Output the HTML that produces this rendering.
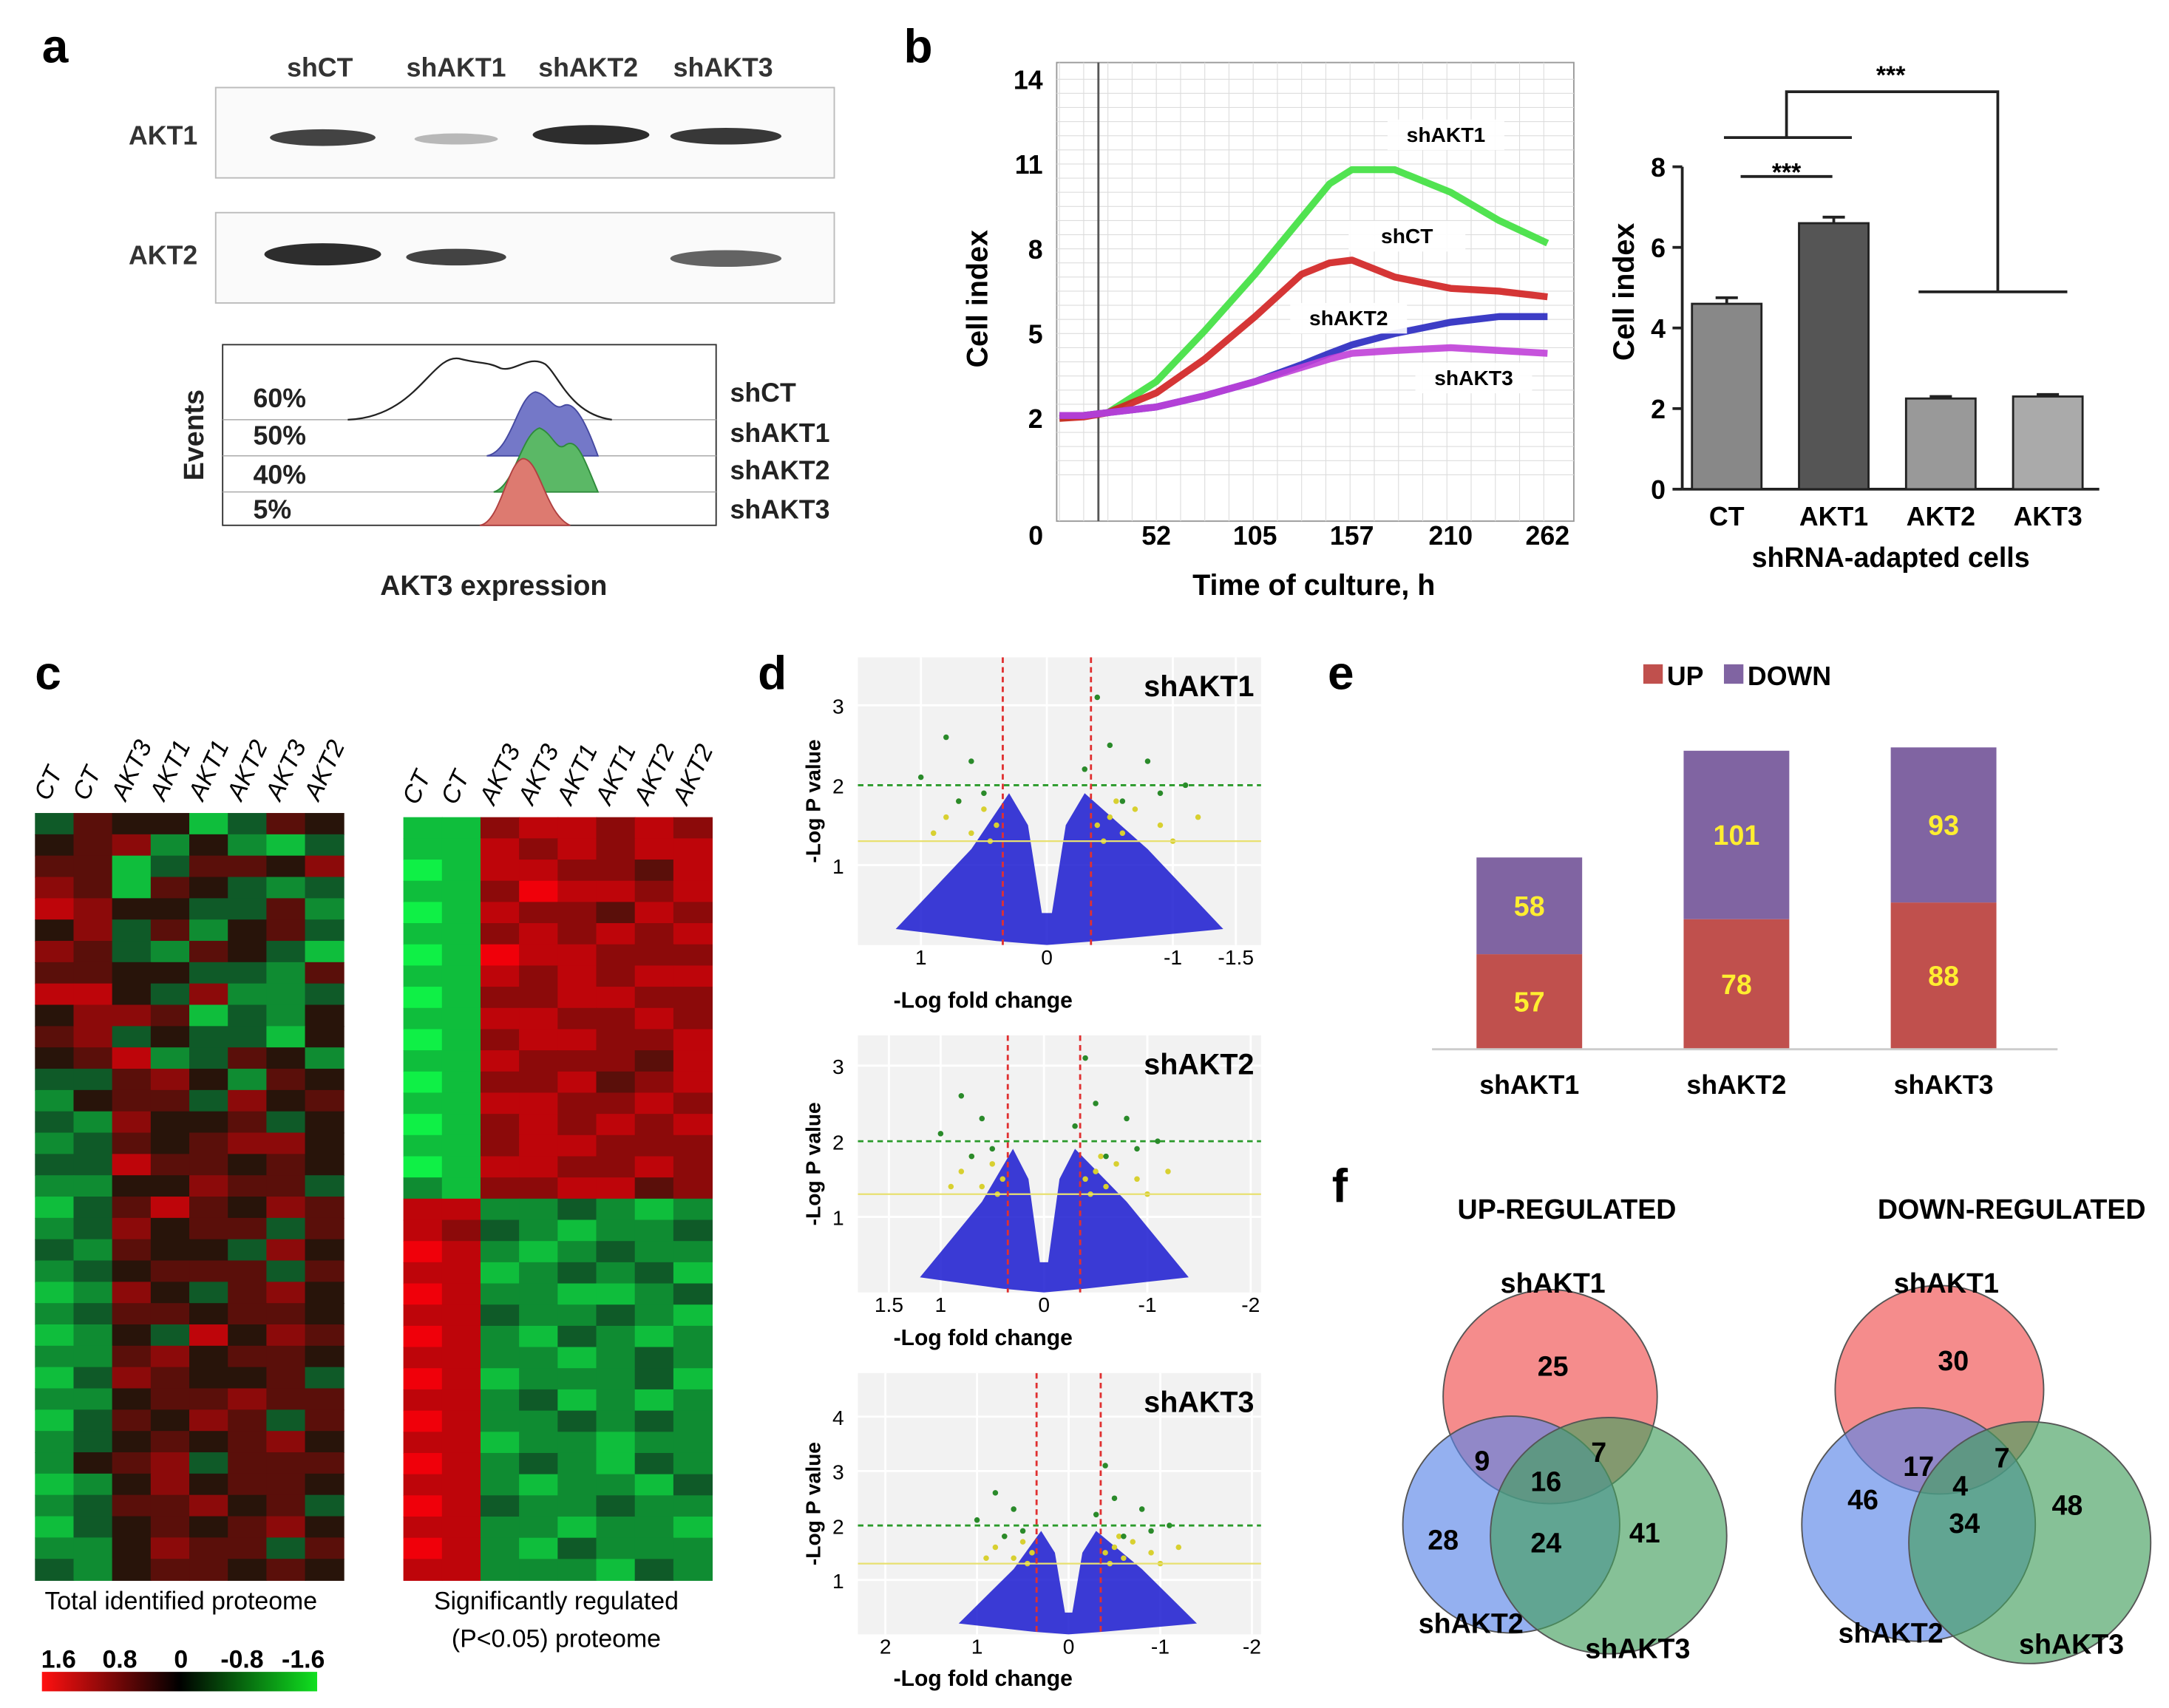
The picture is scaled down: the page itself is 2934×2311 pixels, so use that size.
<!DOCTYPE html>
<html><head><meta charset="utf-8">
<style>
html,body{margin:0;padding:0;background:#fff;}
svg{display:block;font-family:"Liberation Sans",Arial,sans-serif;}
</style></head>
<body>
<svg id="fig" xmlns="http://www.w3.org/2000/svg" width="2934" height="2311" viewBox="0 0 1560 1229">
<rect width="1560" height="1229" fill="#fff"/>
<g>
<text x="30" y="45" font-size="34" font-weight="bold">a</text>
<g font-size="19" font-weight="bold" fill="#333">
<text x="230" y="55" text-anchor="middle">shCT</text>
<text x="328" y="55" text-anchor="middle">shAKT1</text>
<text x="423" y="55" text-anchor="middle">shAKT2</text>
<text x="520" y="55" text-anchor="middle">shAKT3</text>
<text x="142" y="104" text-anchor="end">AKT1</text>
<text x="142" y="190" text-anchor="end">AKT2</text>
</g>
<rect x="155" y="63" width="445" height="65" fill="#fafafa" stroke="#bbb"/>
<rect x="155" y="153" width="445" height="65" fill="#fafafa" stroke="#bbb"/>
<g fill="#222">
<ellipse cx="232" cy="99" rx="38" ry="6" opacity="0.85"/>
<ellipse cx="328" cy="100" rx="30" ry="4" opacity="0.3"/>
<ellipse cx="425" cy="97" rx="42" ry="7" opacity="0.95"/>
<ellipse cx="522" cy="98" rx="40" ry="6" opacity="0.9"/>
<ellipse cx="232" cy="183" rx="42" ry="8" opacity="0.95"/>
<ellipse cx="328" cy="185" rx="36" ry="6" opacity="0.85"/>
<ellipse cx="522" cy="186" rx="40" ry="6" opacity="0.7"/>
</g>
<rect x="160" y="248" width="355" height="130" fill="#fff" stroke="#333"/>
<g stroke="#aaa" stroke-width="0.8"><line x1="160" y1="302" x2="515" y2="302"/><line x1="160" y1="328" x2="515" y2="328"/><line x1="160" y1="354" x2="515" y2="354"/></g>
<path d="M250,302 C300,300 310,255 330,258 C345,262 350,260 360,265 C370,268 380,255 392,262 C402,270 410,298 440,302" fill="none" stroke="#222" stroke-width="1.2"/>
<path d="M350,328 C368,325 372,285 385,282 C395,284 398,296 405,292 C412,288 420,300 430,328 Z" fill="#7478c8" stroke="#4448a0"/>
<path d="M355,354 C370,350 375,312 388,308 C398,312 400,326 407,320 C415,315 420,330 430,354 Z" fill="#5bb866" stroke="#2e8a3a"/>
<path d="M345,378 C360,376 365,332 376,330 C388,330 392,370 410,378 Z" fill="#dd7a70" stroke="#b04040"/>
<g font-size="19" font-weight="bold" fill="#222">
<text x="182" y="293">60%</text>
<text x="182" y="320">50%</text>
<text x="182" y="348">40%</text>
<text x="182" y="373">5%</text>
<text x="525" y="289">shCT</text>
<text x="525" y="318">shAKT1</text>
<text x="525" y="345">shAKT2</text>
<text x="525" y="373">shAKT3</text>
<text x="355" y="428" text-anchor="middle" font-size="20">AKT3 expression</text>
<text transform="translate(146,313) rotate(-90)" text-anchor="middle" font-size="20">Events</text>
</g>
</g>
<g id="pb">
<text x="650" y="45" font-size="34" font-weight="bold">b</text>
</g>
<g id="pc">
<text x="25" y="496" font-size="34" font-weight="bold">c</text>
</g>
<g id="pd">
<text x="545" y="496" font-size="34" font-weight="bold">d</text>
</g>
<g id="pe">
<text x="955" y="496" font-size="34" font-weight="bold">e</text>
</g>
<g id="pf">
<text x="958" y="865" font-size="34" font-weight="bold">f</text>
</g>
</svg>
<script>
const NS="http://www.w3.org/2000/svg";
function mk(parent,tag,attrs,txt){const e=document.createElementNS(NS,tag);for(const k in attrs)e.setAttribute(k,attrs[k]);if(txt!==undefined)e.textContent=txt;document.getElementById(parent).appendChild(e);return e;}

const times=[0,13,26,52,78,105,130,145,157,180,210,236,262];
const sAKT1=[2,2.1,2.2,3.3,5.1,7.1,9.1,10.3,10.8,10.8,10.0,9.0,8.2];
const sCT=[2,2.05,2.2,2.9,4.1,5.6,7.1,7.5,7.6,7.0,6.6,6.5,6.3];
const sAKT2=[2.1,2.1,2.2,2.4,2.8,3.3,3.9,4.3,4.6,5.0,5.4,5.6,5.6];
const sAKT3=[2.1,2.1,2.2,2.4,2.8,3.3,3.8,4.1,4.3,4.4,4.5,4.4,4.3];
const yTicks=[2,5,8,11,14];
const xTicks=[0,52,105,157,210,262];
const lx=t=>762+t*1.34, ly=v=>301-(v-2)*20.33;
let e;
e=mk("pb","rect",{x:760,y:45,width:372,height:330,fill:"#fff",stroke:"#999"});


for(let v=0;v<=14;v+=0.5){e=mk("pb","line",{x1:760,x2:1132,y1:ly(v),y2:ly(v),stroke:"#ddd","stroke-width":0.6});

}
for(let t=0;t<=270;t+=13){e=mk("pb","line",{x1:lx(t),x2:lx(t),y1:45,y2:375,stroke:"#ddd","stroke-width":0.6});

}
e=mk("pb","line",{x1:790,x2:790,y1:45,y2:375,stroke:"#555","stroke-width":1.5});


yTicks.forEach(v=>{e=mk("pb","text",{x:750,y:ly(v)+7,"text-anchor":"end","font-size":19,"font-weight":"bold"},String(v));

});
xTicks.forEach(t=>{e=mk("pb","text",{x:t===0?745:lx(t),y:392,"text-anchor":"middle","font-size":19,"font-weight":"bold"},String(t));

});
e=mk("pb","text",{x:945,y:428,"text-anchor":"middle","font-size":21,"font-weight":"bold"},"Time of culture, h");


e=mk("pb","text",{transform:"translate(710,215) rotate(-90)","text-anchor":"middle","font-size":21,"font-weight":"bold"},"Cell index");


const series=[[sAKT1,"#3ee03e","line-shakt1"],[sCT,"#d02020","line-shct"],[sAKT2,"#2828c0","line-shakt2"],[sAKT3,"#c040d8","line-shakt3"]];
series.forEach(([vals,col,nm])=>{const d=vals.map((v,i)=>(i?"L":"M")+lx(times[i])+","+ly(v)).join(" ");
e=mk("pb","path",{d:d,fill:"none",stroke:col,"stroke-width":5,"stroke-linejoin":"round",opacity:0.9});

});
[["shAKT1",1040,102],["shCT",1012,175],["shAKT2",970,234],["shAKT3",1060,277]].forEach(([t,x,y])=>{
mk("pb","rect",{x:x-42,y:y-16,width:84,height:22,fill:"#fff",opacity:0.9});
e=mk("pb","text",{x:x,y:y,"text-anchor":"middle","font-size":15,"font-weight":"bold"},t);

});

const barCats=["CT","AKT1","AKT2","AKT3"];
const barVals=[4.6,6.6,2.25,2.3];
const barErr=[0.15,0.15,0.05,0.05];
const barTicks=[0,2,4,6,8];
const by=v=>352-v*29, bx=i=>1242+i*77;
e=mk("pb","line",{x1:1210,x2:1210,y1:by(8),y2:by(0),stroke:"#222","stroke-width":2});


e=mk("pb","line",{x1:1210,x2:1510,y1:by(0),y2:by(0),stroke:"#222","stroke-width":2});


barTicks.forEach(v=>{mk("pb","line",{x1:1203,x2:1210,y1:by(v),y2:by(v),stroke:"#222","stroke-width":2});
e=mk("pb","text",{x:1198,y:by(v)+7,"text-anchor":"end","font-size":19,"font-weight":"bold"},String(v));

});
const fills=["#888","#555","#999","#aaa"];
barVals.forEach((v,i)=>{
e=mk("pb","rect",{x:bx(i)-25,y:by(v),width:50,height:by(0)-by(v),fill:fills[i],stroke:"#222","stroke-width":1.5});


mk("pb","line",{x1:bx(i)-8,x2:bx(i)+8,y1:by(v+barErr[i]),y2:by(v+barErr[i]),stroke:"#222","stroke-width":2});
mk("pb","line",{x1:bx(i),x2:bx(i),y1:by(v),y2:by(v+barErr[i]),stroke:"#222","stroke-width":2});
e=mk("pb","text",{x:bx(i),y:378,"text-anchor":"middle","font-size":19,"font-weight":"bold"},barCats[i]);

});
e=mk("pb","text",{x:1360,y:408,"text-anchor":"middle","font-size":20,"font-weight":"bold"},"shRNA-adapted cells");


e=mk("pb","text",{transform:"translate(1175,210) rotate(-90)","text-anchor":"middle","font-size":21,"font-weight":"bold"},"Cell index");


e=mk("pb","path",{d:"M1240,99 L1332,99 M1285,99 L1285,66 L1437,66 L1437,210 M1380,210 L1487,210 M1252,127 L1318,127",fill:"none",stroke:"#222","stroke-width":2});


[[1360,60],[1285,130]].forEach(([x,y])=>{e=mk("pb","text",{x:x,y:y,"text-anchor":"middle","font-size":18,"font-weight":"bold"},"***");

});

const hmLeftRows=["dfeebdfe","efgcecbd","ffbdffeg","gfbfedcd","hgeeddfc","egdfcefd","gfdcfedb","ffeeddcf","hhedgccd","eggfbdce","fgdeddbe","efhcdfec","ddfgecfe","ceffdgef","dcgeefde","cdfefgge","ddhffefe","cceegffd","bdfhfegf","cdgeffdf","dcfeedge","cdefffdf","bcgedfge","cdffeffe","bcedhegf","ccfgeffe","bdgfeefd","cceffgff","bdfegfdf","cdefefge","cefgdfff","bcegeffe","cdffgefd","bdefefge","ccegffdf","dceffefe"];
const hmRightRows=["bbghhghg","bbhghghh","abhhggfh","bbgihhgh","abhggfhg","bbghghgh","abihhggg","bbhghghh","abgghhgg","bbhhgghg","abghhggh","bbhgggfh","abgghfgh","bbhhgghg","abghghgh","bbghhggg","abhhgghg","cbgghhfg","hhccdcbc","hgdcbccd","ihcbcdcc","hhbcdcdb","ihccbbcd","hhdccdcb","ihcbdcbc","hhccbcdc","ihbcccdb","hhcdbcbc","ihccdcdc","hhbccbcc","ihcdcbdc","hhcbccbd","ihdccdcc","hhccbccb","ihcbdccc","hhcccbdc"];
const hmColsLeft=["CT","CT","AKT3","AKT1","AKT1","AKT2","AKT3","AKT2"];
const hmColsRight=["CT","CT","AKT3","AKT3","AKT1","AKT1","AKT2","AKT2"];
function hmColor(ch){const v=ch.charCodeAt(0)-101;const a=Math.min(1,Math.abs(v)/4);
if(v>=0)return "rgb("+Math.round(40+200*a)+","+Math.round(20*(1-a))+",10)";return "rgb(15,"+Math.round(40+200*a)+","+Math.round(30+40*a)+")";}
function drawHM(rows,cols,x0,y0,w,h,nm){const cw=w/8,rh=h/rows.length;
rows.forEach((r,i)=>{for(let j=0;j<8;j++){e=mk("pc","rect",{x:x0+j*cw,y:y0+i*rh,width:cw+0.5,height:rh+0.5,fill:hmColor(r[j])});

}});
cols.forEach((c,j)=>{e=mk("pc","text",{transform:"translate("+(x0+j*cw+cw/2-4)+","+(y0-8)+") rotate(-65)","font-size":18,"font-style":"italic"},c);

});}
drawHM(hmLeftRows,hmColsLeft,25,585,222,552,"heatmap-total");
drawHM(hmRightRows,hmColsRight,290,588,222,549,"heatmap-significant");
e=mk("pc","text",{x:130,y:1158,"text-anchor":"middle","font-size":18},"Total identified proteome");


e=mk("pc","text",{x:400,y:1158,"text-anchor":"middle","font-size":18},"Significantly regulated");


e=mk("pc","text",{x:400,y:1185,"text-anchor":"middle","font-size":18},"(P<0.05) proteome");


const cbLabels=["1.6","0.8","0","-0.8","-1.6"];
cbLabels.forEach((t,i)=>{e=mk("pc","text",{x:42+i*44,y:1200,"text-anchor":"middle","font-size":18,"font-weight":"bold"},t);

});
const defs=mk("pc","defs",{});
const lg=document.createElementNS(NS,"linearGradient");lg.setAttribute("id","cbg");defs.appendChild(lg);
[["0","#ff1010"],["0.5","#000"],["1","#10e020"]].forEach(([o,c])=>{const s=document.createElementNS(NS,"stop");s.setAttribute("offset",o);s.setAttribute("stop-color",c);lg.appendChild(s);});
e=mk("pc","rect",{x:30,y:1203,width:198,height:14,fill:"url(#cbg)"});



const volcNames=["shAKT1","shAKT2","shAKT3"];
const volcBoxes=[[617,473,290,207],[617,745,290,185],[617,988,290,188]];
const volcXTicks=[["1","0","-1","-1.5"],["1.5","1","0","-1","-2"],["2","1","0","-1","-2"]];
const volcXTickVals=[[1,0,-1,-1.5],[1.5,1,0,-1,-2],[2,1,0,-1,-2]];
const volcXRange=[[1.5,-1.7],[1.8,-2.1],[2.3,-2.1]];
const volcYTicks=[[1,2,3],[1,2,3],[1,2,3,4]];
const volcYMax=[3.6,3.4,4.8];
const volcUpDots=[[-0.3,2.2],[-0.5,2.5],[-0.8,2.3],[-0.9,1.9],[-1.1,2.0],[-0.4,3.1],[0.6,2.3],[0.8,2.6],[1.0,2.1],[0.5,1.9],[-0.6,1.8],[0.7,1.8]];
const volcMidDots=[[-0.4,1.5],[-0.5,1.6],[-0.6,1.4],[-0.7,1.7],[-0.9,1.5],[-1.2,1.6],[-0.45,1.3],[-0.55,1.8],[0.4,1.5],[0.5,1.7],[0.6,1.4],[0.8,1.6],[0.45,1.3],[0.7,1.8],[0.9,1.4],[-1.0,1.3]];
volcBoxes.forEach(([x,y,w,h],k)=>{
const [xa,xb]=volcXRange[k];const vx=v=>x+(xa-v)/(xa-xb)*w;const vy=v=>y+h-v/volcYMax[k]*h;
e=mk("pd","rect",{x:x,y:y,width:w,height:h,fill:"#f2f2f2"});


volcYTicks[k].forEach(v=>{mk("pd","line",{x1:x,x2:x+w,y1:vy(v),y2:vy(v),stroke:"#fff","stroke-width":1.5});
e=mk("pd","text",{x:x-10,y:vy(v)+6,"text-anchor":"end","font-size":15},String(v));

});
volcXTickVals[k].forEach((v,i)=>{mk("pd","line",{x1:vx(v),x2:vx(v),y1:y,y2:y+h,stroke:"#fff","stroke-width":1.5});
e=mk("pd","text",{x:vx(v),y:y+h+14,"text-anchor":"middle","font-size":15},volcXTicks[k][i]);

});
e=mk("pd","path",{d:"M"+vx(1.2)+","+vy(0.2)+" L"+vx(0.6)+","+vy(1.2)+" L"+vx(0.3)+","+vy(1.9)+" L"+vx(0.15)+","+vy(1.5)+" L"+vx(0.04)+","+vy(0.4)+" L"+vx(-0.04)+","+vy(0.4)+" L"+vx(-0.15)+","+vy(1.5)+" L"+vx(-0.3)+","+vy(1.9)+" L"+vx(-0.8)+","+vy(1.2)+" L"+vx(-1.4)+","+vy(0.2)+" L"+vx(-0.4)+","+vy(0.05)+" L"+vx(0)+","+vy(0)+" L"+vx(0.4)+","+vy(0.05)+" Z",fill:"#1a1ad0",opacity:0.85});


volcMidDots.forEach(([a,b])=>{e=mk("pd","circle",{cx:vx(a),cy:vy(b),r:2,fill:"#d8d030"});

});
volcUpDots.forEach(([a,b])=>{e=mk("pd","circle",{cx:vx(a),cy:vy(b),r:2,fill:"#2a8a2a"});

});
mk("pd","line",{x1:x,x2:x+w,y1:vy(2),y2:vy(2),stroke:"#2a9a2a","stroke-dasharray":"4,3","stroke-width":1.5});
mk("pd","line",{x1:x,x2:x+w,y1:vy(1.3),y2:vy(1.3),stroke:"#e8e070","stroke-width":1.2});
[0.35,-0.35].forEach(v=>mk("pd","line",{x1:vx(v),x2:vx(v),y1:y,y2:y+h,stroke:"#e03030","stroke-dasharray":"4,3","stroke-width":1.5}));
e=mk("pd","text",{x:x+w-5,y:y+28,"text-anchor":"end","font-size":21,"font-weight":"bold"},volcNames[k]);


e=mk("pd","text",{x:x+w/2-55,y:y+h+[45,38,37][k],"text-anchor":"middle","font-size":16,"font-weight":"bold"},"-Log fold change");


e=mk("pd","text",{transform:"translate("+(x-27)+","+(y+h/2)+") rotate(-90)","text-anchor":"middle","font-size":15,"font-weight":"bold"},"-Log P value");

});

const stackCats=["shAKT1","shAKT2","shAKT3"];
const upVals=[57,78,88];
const downVals=[58,101,93];
const sy=v=>755-v*1.2, sx=i=>1100+i*149;
upVals.forEach((u,i)=>{const d=downVals[i];
e=mk("pe","rect",{x:sx(i)-38,y:sy(u),width:76,height:u*1.2,fill:"#c0504d"});


e=mk("pe","rect",{x:sx(i)-38,y:sy(u+d),width:76,height:d*1.2,fill:"#8064a2"});


e=mk("pe","text",{x:sx(i),y:sy(u/2)+7,"text-anchor":"middle","font-size":20,"font-weight":"bold",fill:"#ffee30"},String(u));


e=mk("pe","text",{x:sx(i),y:sy(u+d/2)+7,"text-anchor":"middle","font-size":20,"font-weight":"bold",fill:"#ffee30"},String(d));


e=mk("pe","text",{x:sx(i),y:787,"text-anchor":"middle","font-size":19,"font-weight":"bold"},stackCats[i]);

});
e=mk("pe","line",{x1:1030,x2:1480,y1:755,y2:755,stroke:"#ccc","stroke-width":1.5});


mk("pe","rect",{x:1182,y:478,width:14,height:14,fill:"#c0504d"});
e=mk("pe","text",{x:1199,y:493,"font-size":19,"font-weight":"bold"},"UP");


mk("pe","rect",{x:1240,y:478,width:14,height:14,fill:"#8064a2"});
e=mk("pe","text",{x:1257,y:493,"font-size":19,"font-weight":"bold"},"DOWN");



const vennTitles=["UP-REGULATED","DOWN-REGULATED"];
const vennCounts=[[25,9,7,16,28,24,41],[30,17,7,4,46,34,48]];
const vennCircles=[[[1115,1005,77],[1087,1097,78],[1157,1105,85]],[[1395,1000,75],[1380,1097,84],[1460,1110,87]]];
const vennNumPos=[[[1117,990],[1066,1058],[1150,1052],[1112,1073],[1038,1115],[1112,1117],[1183,1110]],[[1405,986],[1380,1062],[1440,1056],[1410,1076],[1340,1086],[1413,1103],[1487,1090]]];
const vennLabelPos=[[[1117,930],[1058,1175],[1178,1193]],[[1400,930],[1360,1182],[1490,1190]]];
const vennFills=["#ef4f4f","#5b86e8","#45a060"];
const vennLabels=["shAKT1","shAKT2","shAKT3"];
vennTitles.forEach((t,k)=>{
e=mk("pf","text",{x:k?1447:1127,y:877,"text-anchor":"middle","font-size":20,"font-weight":"bold"},t);


vennCircles[k].forEach(([cx,cy,r],j)=>{e=mk("pf","circle",{cx:cx,cy:cy,r:r,fill:vennFills[j],"fill-opacity":0.65,stroke:"#555","stroke-width":1});

});
vennCounts[k].forEach((c,j)=>{e=mk("pf","text",{x:vennNumPos[k][j][0],y:vennNumPos[k][j][1],"text-anchor":"middle","font-size":20,"font-weight":"bold"},String(c));

});
vennLabelPos[k].forEach(([x,y],j)=>{e=mk("pf","text",{x:x,y:y,"text-anchor":"middle","font-size":20,"font-weight":"bold"},vennLabels[j]);

});});
</script>
</body></html>
